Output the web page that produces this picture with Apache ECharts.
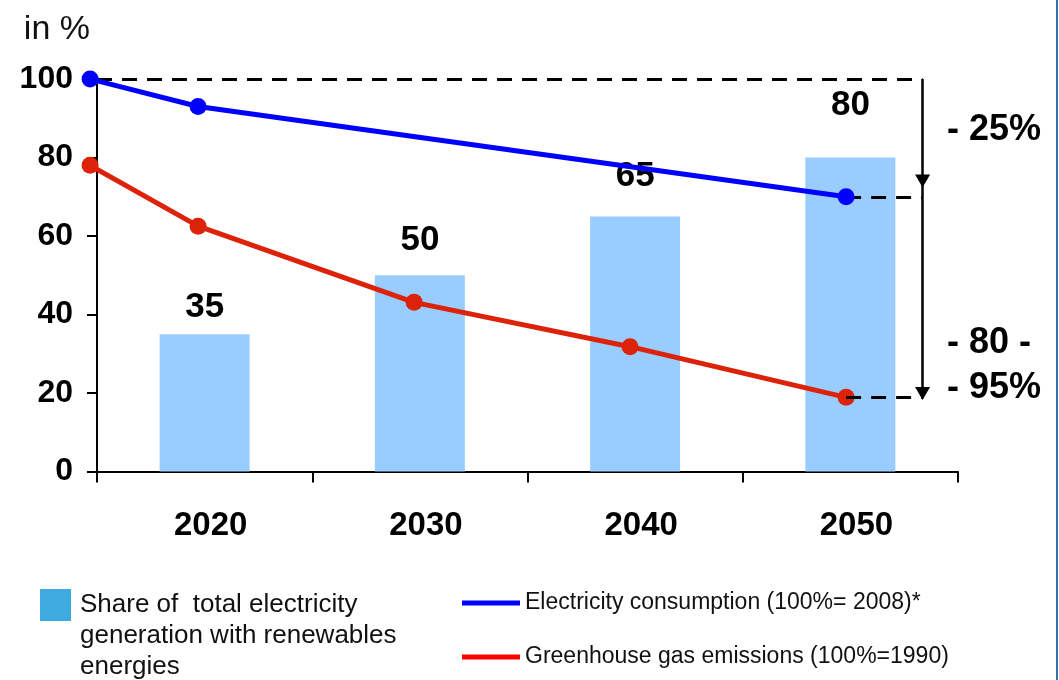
<!DOCTYPE html>
<html>
<head>
<meta charset="utf-8">
<title>Electricity targets</title>
<script src="https://cdn.jsdelivr.net/npm/echarts@6/dist/echarts.min.js"></script>
<style>
  html, body { margin: 0; padding: 0; background: #fff; }
  #chart { width: 1059px; height: 680px; }
</style>
</head>
<body>
<div id="chart"></div>
<script>
// Target years on the category axis
const categories = ['2020', '2030', '2040', '2050'];

// Share of total electricity generation from renewables (%)
const renewableShare = [35, 50, 65, 80];

// Electricity consumption, 100% = 2008
const consumptionYears = ['2008', '2020', '2050'];
const consumption = [100, 93, 70];

// Greenhouse gas emissions, 100% = 1990
const emissionYears = ['2008', '2020', '2030', '2040', '2050'];
const emissions = [78, 62.5, 43.1, 31.8, 18.9];

// Reduction callouts on the right
const consumptionCut = '- 25%';
const emissionCut = ['- 80 -', '- 95%'];

const SHARE_NAME = 'Share of  total electricity generation with renewables energies';
const CONSUMPTION_NAME = 'Electricity consumption (100%= 2008)*';
const EMISSION_NAME = 'Greenhouse gas emissions (100%=1990)';

const FONT = '"Liberation Sans", Arial, Helvetica, sans-serif';

// Lines share the bar grid through a hidden value axis whose units are
// category indices; the 2008 base year sits just left of the y axis.
const LINE_AXIS_MIN = -0.468;
const LINE_AXIS_MAX = 3.518;
const BASE_POS = -0.5;
const yearPos = y => (y === '2008' ? BASE_POS : categories.indexOf(y));
const ARROW_POS = 3.354;

// Per-bar label gap above each bar (styling only)
const shareLabelGap = [9, 17, 23, 35];

const consumptionData = consumptionYears.map((y, i) => [yearPos(y), consumption[i]]);
const emissionData = emissionYears.map((y, i) => [yearPos(y), emissions[i]]);

const lastConsumption = consumption[consumption.length - 1];
const lastEmission = emissions[emissions.length - 1];

const dashed = { color: '#000', width: 3, type: [15, 10] };
const solid = { color: '#000', width: 2.5, type: 'solid' };
const ARROW_HEAD = [15, 13];

// Legend swatch: a square at the top of a box as tall as the three-line label
const SWATCH_TOP = 'path://M0,0L31,0L31,32L0,32Z M0,93L0.01,93L0,93Z';

const chart = echarts.init(document.getElementById('chart'), null, { renderer: 'canvas' });

chart.setOption({
  animation: false,
  backgroundColor: '#fff',
  textStyle: { fontFamily: FONT },
  grid: { left: 97, right: 101, top: 79, bottom: 208.5 },
  xAxis: [
    {
      type: 'category',
      data: categories,
      boundaryGap: true,
      axisLine: { lineStyle: { color: '#000', width: 2 } },
      axisTick: { show: true, length: 11, inside: false, lineStyle: { color: '#000', width: 2 } },
      axisLabel: {
        color: '#000', fontSize: 33, fontWeight: 'bold', fontFamily: FONT,
        margin: 38, padding: [0, 0, 0, 12]
      },
      splitLine: { show: false }
    },
    {
      type: 'value',
      min: LINE_AXIS_MIN,
      max: LINE_AXIS_MAX,
      show: false,
      splitLine: { show: false }
    }
  ],
  yAxis: {
    type: 'value',
    min: 0,
    max: 100,
    interval: 20,
    name: 'in %',
    nameLocation: 'end',
    nameGap: 49,
    nameTextStyle: {
      color: '#111', fontSize: 34, fontFamily: FONT, fontWeight: 'normal',
      align: 'right', verticalAlign: 'middle', padding: [0, 7, 0, 0]
    },
    axisLine: { show: true, onZero: false, lineStyle: { color: '#000', width: 2 } },
    axisTick: { show: true, length: 10, inside: false, lineStyle: { color: '#000', width: 2 } },
    axisLabel: { color: '#000', fontSize: 32, fontWeight: 'bold', fontFamily: FONT, margin: 24 },
    splitLine: { show: false }
  },
  legend: [
    {
      data: [{ name: SHARE_NAME, itemStyle: { color: '#3DAAE0' } }],
      left: 40,
      top: 589,
      padding: 0,
      icon: SWATCH_TOP,
      itemWidth: 31,
      itemHeight: 93,
      selectedMode: false,
      formatter: () => 'Share of  total electricity\ngeneration with renewables\nenergies',
      textStyle: { color: '#111', fontSize: 26, lineHeight: 31, fontFamily: FONT, padding: [0, 0, 0, 4] }
    },
    {
      data: [
        { name: CONSUMPTION_NAME, itemStyle: { color: '#0000FF' } },
        { name: EMISSION_NAME, itemStyle: { color: '#FF0000' } }
      ],
      orient: 'vertical',
      left: 462,
      top: 590,
      padding: 0,
      icon: 'rect',
      itemWidth: 58,
      itemHeight: 5,
      itemGap: 28,
      selectedMode: false,
      textStyle: { color: '#111', fontSize: 23, lineHeight: 26, fontFamily: FONT }
    }
  ],
  series: [
    {
      name: SHARE_NAME,
      type: 'bar',
      xAxisIndex: 0,
      yAxisIndex: 0,
      barWidth: 90,
      itemStyle: { color: '#99CCFF' },
      data: renewableShare.map((v, i) => ({
        value: v,
        label: { distance: shareLabelGap[i] }
      })),
      label: {
        show: true,
        position: 'top',
        color: '#000',
        fontSize: 35,
        fontWeight: 'bold',
        fontFamily: FONT
      },
      z: 1
    },
    {
      name: CONSUMPTION_NAME,
      type: 'line',
      xAxisIndex: 1,
      yAxisIndex: 0,
      data: consumptionData,
      clip: false,
      symbol: 'circle',
      symbolSize: 17,
      itemStyle: { color: '#0000FF' },
      lineStyle: { color: '#0000FF', width: 5 },
      z: 5,
      markLine: {
        silent: true,
        animation: false,
        label: { show: false },
        data: [
          [
            { coord: [LINE_AXIS_MIN, consumption[0]], symbol: 'none', lineStyle: dashed },
            { coord: [ARROW_POS, consumption[0]], symbol: 'none' }
          ],
          [
            { coord: [yearPos('2050'), lastConsumption], symbol: 'none', lineStyle: dashed },
            { coord: [ARROW_POS, lastConsumption], symbol: 'none' }
          ],
          [
            { coord: [ARROW_POS, consumption[0]], symbol: 'none', lineStyle: solid },
            { coord: [ARROW_POS, lastConsumption + 4], symbol: 'triangle', symbolSize: ARROW_HEAD }
          ]
        ]
      }
    },
    {
      name: EMISSION_NAME,
      type: 'line',
      xAxisIndex: 1,
      yAxisIndex: 0,
      data: emissionData,
      clip: false,
      symbol: 'circle',
      symbolSize: 17,
      itemStyle: { color: '#DD220A' },
      lineStyle: { color: '#DD220A', width: 5 },
      z: 4,
      markLine: {
        silent: true,
        animation: false,
        label: { show: false },
        data: [
          [
            { coord: [yearPos('2050'), lastEmission], symbol: 'none', lineStyle: dashed },
            { coord: [ARROW_POS, lastEmission], symbol: 'none' }
          ],
          [
            { coord: [ARROW_POS, lastConsumption + 4], symbol: 'none', lineStyle: solid },
            { coord: [ARROW_POS, lastEmission + 1], symbol: 'triangle', symbolSize: ARROW_HEAD }
          ]
        ]
      }
    }
  ],
  graphic: [
    {
      type: 'text',
      left: 947,
      top: 112,
      style: { text: consumptionCut, fill: '#000', font: 'bold 36px ' + FONT }
    },
    {
      type: 'text',
      left: 947,
      top: 321,
      style: { text: emissionCut.join('\n'), fill: '#000', font: 'bold 36px ' + FONT, lineHeight: 45 }
    },
    {
      type: 'line',
      shape: { x1: 1057, y1: 0, x2: 1057, y2: 680 },
      style: { stroke: '#2E75B6', lineWidth: 2 }
    }
  ]
});
</script>
</body>
</html>
